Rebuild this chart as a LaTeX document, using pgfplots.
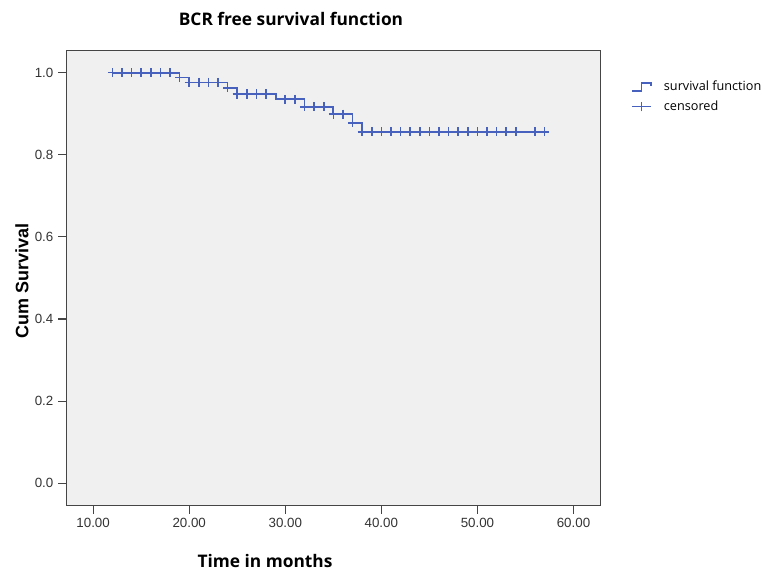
\documentclass[border=0pt]{standalone}
\usepackage{fontspec}
\setmainfont{Liberation Sans}
\newfontfamily\osans{Open Sans}
\usepackage{pgfplots}
\pgfplotsset{compat=1.18}
\definecolor{kmblue}{HTML}{4662BE}
\definecolor{panel}{HTML}{F0F0F0}
\definecolor{framec}{HTML}{454545}
\definecolor{tickc}{HTML}{333333}

\begin{document}
\begin{tikzpicture}
\begin{axis}[
  scale only axis, width=400.5pt, height=341pt,
  xmin=7.25, xmax=62.83, ymin=-0.0536, ymax=1.0536,
  axis background/.style={fill=panel},
  axis line style={framec, line width=1pt},
  xtick={10,20,30,40,50,60}, ytick={0,0.2,0.4,0.6,0.8,1},
  tick align=outside, tick pos=left, major tick length=6.5pt,
  tick style={framec, line width=0.8pt},
  xticklabel style={font=\fontsize{10}{12}\selectfont, text=tickc,
    /pgf/number format/.cd, fixed, fixed zerofill, precision=2, assume math mode=true},
  yticklabel style={font=\fontsize{10}{12}\selectfont, text=tickc,
    /pgf/number format/.cd, fixed, fixed zerofill, precision=1, assume math mode=true},
  legend style={at={(1.05,0.945)}, anchor=north west, draw=none, fill=none,
    font=\osans\fontsize{9.5}{11}\selectfont, row sep=2pt},
  legend cell align=left,
]
% survival function (step)
\addplot[kmblue, line width=1.3pt, const plot, mark=none,
  legend image code/.code={\draw[kmblue, line width=1.1pt] (0pt,-3pt) -- (7pt,-3pt) -- (7pt,3pt) -- (14pt,3pt) -- (14pt,0.5pt); \path (21pt,0pt);}]
  coordinates {(12,1) (19,0.988) (20,0.976) (24,0.963) (25,0.948) (29,0.935)
    (32,0.917) (35,0.899) (37,0.878) (38,0.856) (57,0.856)};
\addlegendentry{survival function}
% censored
\addplot[kmblue, only marks, mark=+, mark size=3.4pt, mark options={line width=1.2pt},
  legend image code/.code={\draw[kmblue, line width=1.1pt] (0pt,0pt) -- (14pt,0pt) (7pt,-3.4pt) -- (7pt,3.4pt); \path (21pt,0pt);}]
  coordinates {(12,1) (13,1) (14,1) (15,1) (16,1) (17,1) (18,1)
    (19,0.988)
    (20,0.976) (21,0.976) (22,0.976) (23,0.976)
    (24,0.963)
    (25,0.948) (26,0.948) (27,0.948) (28,0.948)
    (30,0.935) (31,0.935)
    (32,0.917) (33,0.917) (34,0.917)
    (35,0.899) (36,0.899)
    (37,0.878)
    (38,0.856) (39,0.856) (40,0.856) (41,0.856) (42,0.856) (43,0.856) (44,0.856)
    (45,0.856) (46,0.856) (47,0.856) (48,0.856) (49,0.856) (50,0.856) (51,0.856)
    (52,0.856) (53,0.856) (54,0.856) (56,0.856) (57,0.856)};
\addlegendentry{censored}
\end{axis}
\begin{scope}[shift={(-50.025pt,378.975pt)}, x=0.75pt, y=-0.75pt]
  \path (0,0) rectangle (772,571);
  \node[font=\osans\bfseries\fontsize{13}{15}\selectfont] at (291,19) {BCR free survival function};
  \node[font=\osans\bfseries\fontsize{13}{15}\selectfont] at (265,561) {Time in months};
  \node[font=\bfseries\fontsize{13.5}{16}\selectfont, rotate=90] at (22,281) {Cum Survival};
\end{scope}
\end{tikzpicture}
\end{document}
